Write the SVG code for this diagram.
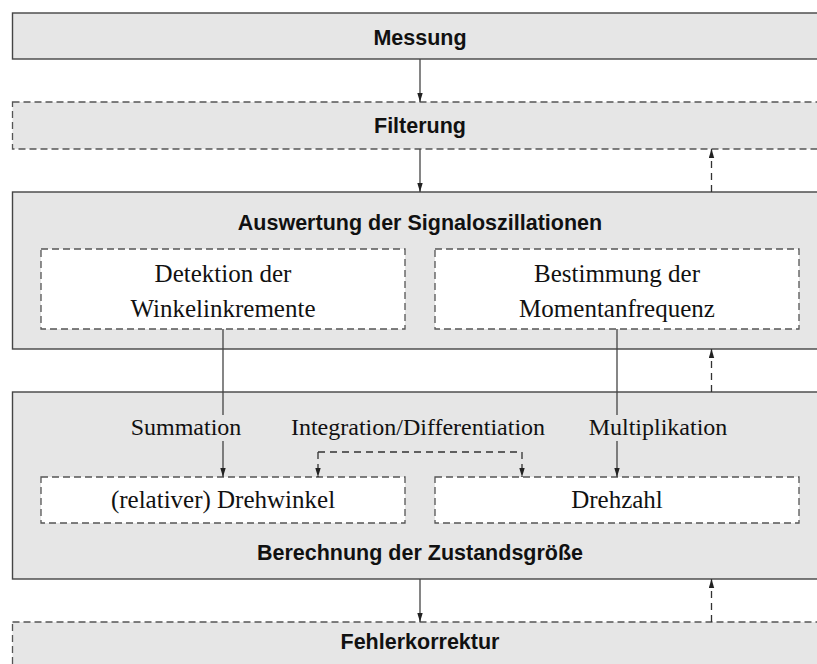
<svg xmlns="http://www.w3.org/2000/svg" width="817" height="664" viewBox="0 0 817 664">
<style>
.big{fill:#e6e6e6;stroke:#444;stroke-width:1.4}
.bigd{fill:#e6e6e6;stroke:#555;stroke-width:1.3;stroke-dasharray:7 4}
.inner{fill:#fff;stroke:#555;stroke-width:1.3;stroke-dasharray:7 4}
.hd{font-family:"Liberation Sans",Arial,sans-serif;font-weight:bold;font-size:21.5px;fill:#111;text-anchor:middle}
.sf{font-family:"Liberation Serif","Times New Roman",serif;font-size:24px;fill:#111;text-anchor:middle}
.sb{font-size:25px}
.c{fill:none;stroke:#444;stroke-width:1.3}
.cd{fill:none;stroke:#333;stroke-width:1.3;stroke-dasharray:7 5}
</style>
<defs>
<marker id="ah" viewBox="0 0 10 6" refX="10" refY="3" markerWidth="9" markerHeight="6" orient="auto" markerUnits="userSpaceOnUse">
<path d="M0,0 L10,3 L0,6 z" fill="#222"/>
</marker>
</defs>
<rect width="817" height="664" fill="#fff"/>
<g id="messung">
<rect class="big" x="12.5" y="13" width="830" height="46"/>
<text class="hd" x="420" y="45">Messung</text>
</g>
<g id="filterung">
<rect class="bigd" x="12.5" y="102" width="830" height="47"/>
<text class="hd" x="420" y="133">Filterung</text>
</g>
<g id="auswertung">
<rect class="big" x="12.5" y="192" width="830" height="157"/>
<text class="hd" x="420" y="230">Auswertung der Signaloszillationen</text>
</g>
<g id="detektion">
<rect class="inner" x="41" y="249" width="364" height="80"/>
<text class="sf sb" x="223" y="282">Detektion der</text>
<text class="sf sb" x="223" y="317">Winkelinkremente</text>
</g>
<g id="bestimmung">
<rect class="inner" x="435" y="249" width="364" height="80"/>
<text class="sf sb" x="617" y="282">Bestimmung der</text>
<text class="sf sb" x="617" y="317">Momentanfrequenz</text>
</g>
<g id="berechnung">
<rect class="big" x="12.5" y="392" width="830" height="187"/>
<text class="hd" x="420" y="560">Berechnung der Zustandsgröße</text>
</g>
<g id="drehwinkel">
<rect class="inner" x="41" y="477" width="364" height="46"/>
<text class="sf sb" x="223" y="508">(relativer) Drehwinkel</text>
</g>
<g id="drehzahl">
<rect class="inner" x="435" y="477" width="364" height="46"/>
<text class="sf sb" x="617" y="508">Drehzahl</text>
</g>
<g id="fehlerkorrektur">
<rect class="bigd" x="12.5" y="622" width="830" height="60"/>
<text class="hd" x="420" y="649">Fehlerkorrektur</text>
</g>
<g id="connectors">
<line class="c" x1="420" y1="59" x2="420" y2="102" marker-end="url(#ah)"/>
<line class="c" x1="420" y1="149" x2="420" y2="192" marker-end="url(#ah)"/>
<line class="cd" x1="711.5" y1="192" x2="711.5" y2="149" marker-end="url(#ah)"/>
<line class="c" x1="223" y1="329" x2="223" y2="415"/>
<line class="c" x1="223" y1="441" x2="223" y2="477" marker-end="url(#ah)"/>
<line class="c" x1="617" y1="329" x2="617" y2="415"/>
<line class="c" x1="617" y1="441" x2="617" y2="477" marker-end="url(#ah)"/>
<line class="cd" x1="711.5" y1="392" x2="711.5" y2="349" marker-end="url(#ah)"/>
<path class="cd" d="M318,452 L522,452"/>
<line class="cd" x1="318" y1="452" x2="318" y2="477" marker-end="url(#ah)"/>
<line class="cd" x1="522" y1="452" x2="522" y2="477" marker-end="url(#ah)"/>
<line class="c" x1="420" y1="579" x2="420" y2="622" marker-end="url(#ah)"/>
<line class="cd" x1="711.5" y1="622" x2="711.5" y2="579" marker-end="url(#ah)"/>
<text class="sf" x="186" y="435">Summation</text>
<text class="sf" x="418" y="435">Integration/Differentiation</text>
<text class="sf" x="658" y="435">Multiplikation</text>
</g>
</svg>
